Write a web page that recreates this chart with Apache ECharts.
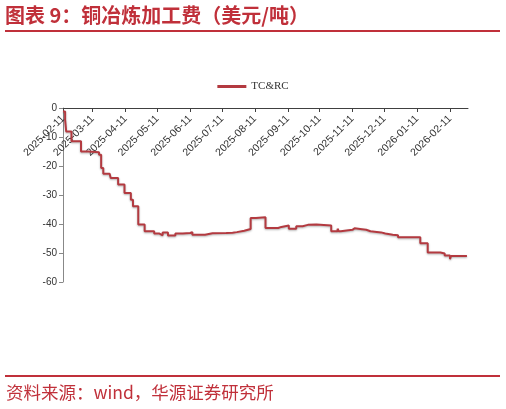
<!DOCTYPE html>
<html>
<head>
<meta charset="utf-8">
<script src="https://cdn.jsdelivr.net/npm/echarts@6/dist/echarts.min.js"></script>
<style>
html, body { margin: 0; padding: 0; background: #fff; }
#main { width: 506px; height: 409px; }
</style>
</head>
<body>
<div id="main"></div>
<script>
// TC&RC change points (value holds until the next date)
var dates = ['2025-02-11', '2025-02-13', '2025-02-14', '2025-02-19', '2025-02-28', '2025-03-07',
	'2025-03-17', '2025-03-19', '2025-03-21', '2025-03-27', '2025-03-28', '2025-04-04',
	'2025-04-10', '2025-04-16', '2025-04-18', '2025-04-23', '2025-04-29', '2025-05-08',
	'2025-05-13', '2025-05-16', '2025-05-21', '2025-05-28', '2025-06-04', '2025-06-11',
	'2025-06-13', '2025-06-25', '2025-07-02', '2025-07-15', '2025-07-21', '2025-07-25',
	'2025-08-01', '2025-08-07', '2025-08-12', '2025-08-21', '2025-09-02', '2025-09-05',
	'2025-09-12', '2025-09-19', '2025-09-25', '2025-09-30', '2025-10-08', '2025-10-22',
	'2025-10-28', '2025-10-29', '2025-10-31', '2025-11-11', '2025-11-13', '2025-11-20',
	'2025-11-24', '2025-11-28', '2025-12-08', '2025-12-12', '2025-12-19', '2025-12-24',
	'2026-01-14', '2026-01-21', '2026-02-02', '2026-02-06', '2026-02-11', '2026-02-12',
	'2026-02-27'];
var tcrc = [-1.2, -4, -8.1, -11.5, -15, -15.3,
	-16.1, -20.7, -22.7, -23.3, -24.1, -26.4,
	-29.3, -31.6, -33.9, -40.2, -42.5, -43.3,
	-43.9, -42.9, -44, -43.3, -43.1, -42.8,
	-43.7, -43.2, -43.1, -43.0, -42.8, -42.3,
	-41.7, -37.9, -37.7, -41.4, -41.0, -40.5,
	-41.6, -40.8, -40.3, -40.2, -40.5, -42.5,
	-41.6, -42.5, -42, -41.5, -41.8, -42,
	-42.5, -42.9, -43.3, -43.7, -43.9, -44.6,
	-46.6, -49.8, -50.2, -50.9, -52.1, -51,
	-51];
var tickLabels = ['2025-02-11', '2025-03-11', '2025-04-11', '2025-05-11', '2025-06-11',
	'2025-07-11', '2025-08-11', '2025-09-11', '2025-10-11', '2025-11-11', '2025-12-11',
	'2026-01-11', '2026-02-11'];

var red = '#c0303a';

function toTime(s) {
	return echarts.number.parseDate(s).getTime();
}

function pad(n) {
	return n < 10 ? '0' + n : '' + n;
}

var seriesData = [];
for (var i = 0; i < dates.length; i++) {
	seriesData.push([toTime(dates[i]), tcrc[i]]);
}
var tickValues = tickLabels.map(toTime);

var myChart = echarts.init(document.getElementById('main'));
myChart.setOption({
	animation : false,
	textStyle : {
		fontFamily : 'Liberation Sans'
	},
	graphic : [ {
		type : 'text',
		left : 5,
		top : 5,
		style : {
			text : '图表 9：铜冶炼加工费（美元/吨）',
			fill : red,
			font : 'bold 20px "Noto Sans CJK SC"'
		}
	}, {
		type : 'rect',
		shape : { x : 5, y : 30, width : 495, height : 2 },
		style : { fill : red }
	}, {
		type : 'rect',
		shape : { x : 5, y : 375, width : 495, height : 2 },
		style : { fill : red }
	}, {
		type : 'text',
		left : 6,
		top : 384,
		style : {
			text : '资料来源：wind，华源证券研究所',
			fill : red,
			font : '17.5px "Noto Sans CJK SC"'
		}
	} ],
	legend : {
		top : 76,
		left : 'center',
		icon : 'rect',
		itemWidth : 29,
		itemHeight : 3,
		itemGap : 5,
		textStyle : {
			fontFamily : 'Liberation Serif',
			fontSize : 11,
			color : '#333'
		},
		data : [ 'TC&RC' ]
	},
	grid : {
		left : 63,
		right : 38,
		top : 108,
		bottom : 127,
		containLabel : false
	},
	xAxis : {
		type : 'value',
		position : 'bottom',
		offset : -174,
		min : toTime('2025-02-11'),
		max : toTime('2026-02-28'),
		splitLine : { show : false },
		axisLine : {
			onZero : false,
			lineStyle : { color : '#404040', width : 1 }
		},
		axisTick : {
			show : true,
			length : 4,
			customValues : tickValues,
			lineStyle : { color : '#404040' }
		},
		axisLabel : {
			rotate : 45,
			fontSize : 10.5,
			color : '#333',
			margin : 9,
			customValues : tickValues,
			formatter : function(v) {
				var d = new Date(v);
				return d.getFullYear() + '-' + pad(d.getMonth() + 1) + '-' + pad(d.getDate());
			}
		}
	},
	yAxis : {
		type : 'value',
		min : -60,
		max : 0,
		interval : 10,
		splitLine : { show : false },
		axisLine : {
			show : true,
			onZero : false,
			lineStyle : { color : '#888' }
		},
		axisTick : {
			show : true,
			length : 4,
			lineStyle : { color : '#888' }
		},
		axisLabel : {
			fontSize : 10,
			color : '#333',
			margin : 6
		}
	},
	series : [ {
		name : 'TC&RC',
		type : 'line',
		step : 'end',
		data : seriesData,
		symbol : 'none',
		showSymbol : false,
		lineStyle : {
			color : '#b33a40',
			width : 2,
			shadowColor : 'rgba(0, 0, 0, 0.3)',
			shadowBlur : 2,
			shadowOffsetY : 1
		},
		itemStyle : { color : '#b33a40' }
	} ]
});
</script>
</body>
</html>
